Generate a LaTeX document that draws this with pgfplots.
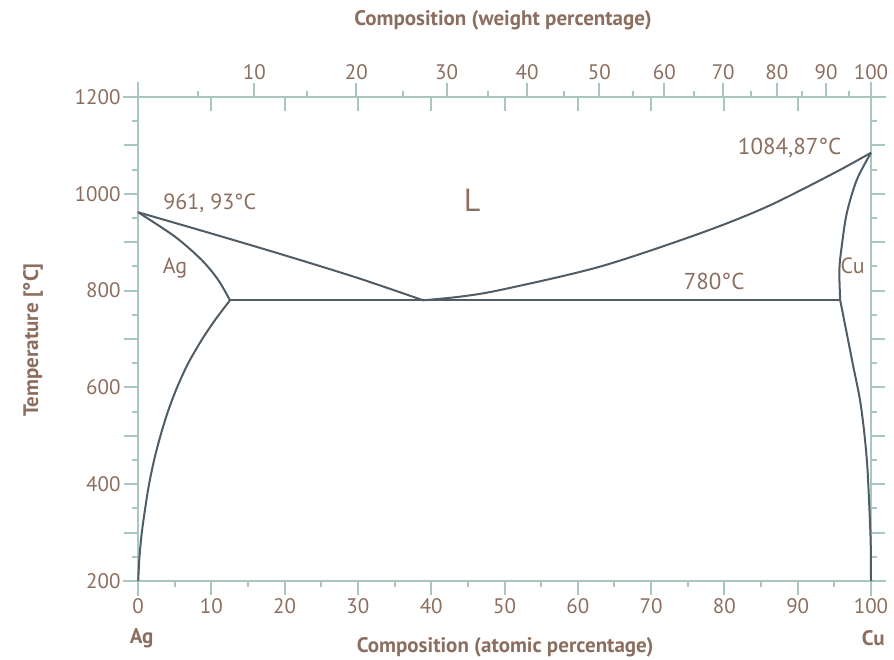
\documentclass[border=0pt]{standalone}
\usepackage{fontspec}
\setmainfont{PT Sans}
\usepackage{pgfplots}
\pgfplotsset{compat=1.18}
\definecolor{txt}{HTML}{8C6E5F}
\definecolor{axc}{HTML}{A8C8BE}
\definecolor{crv}{HTML}{505C66}
\pgfplotsset{
  base/.style={
    scale only axis, width=733pt, height=484pt,
    xmin=0,xmax=100,ymin=200,ymax=1200,
    at={(0,0)}, anchor=south west,
    axis line style={draw=axc, line width=2.2pt, -},
    x axis line style={shorten <=-15pt, shorten >=-15pt},
    y axis line style={shorten <=-15pt, shorten >=-15pt},
    every tick/.style={draw=axc, line width=2pt},
    tick label style={text=txt, font=\fontsize{21}{24}\selectfont},
    /pgf/number format/assume math mode=true,
    /pgf/number format/1000 sep={},
    major tick length=14pt, minor tick length=6pt,
    tick align=outside,
    clip=false,
  }
}
\begin{document}
\begin{tikzpicture}[x=1pt,y=1pt]
\path[use as bounding box] (-138,-78) rectangle (756,581);
% top / right axis
\begin{axis}[base,
  axis x line*=top, axis y line*=right,
  xtick={0,15.87,29.79,42.11,53.09,62.93,71.80,79.84,87.16,93.86,100},
  xticklabels={,10,20,30,40,50,60,70,80,90,100},
  minor xtick={8.20,23.05,36.14,47.75,58.14,67.48,75.92,83.59,90.58,96.99},
  extra x ticks={0,10,...,100}, extra x tick labels={},
  extra x tick style={tick align=inside, major tick length=14pt},
  ytick={200,300,...,1200}, yticklabels={}, minor y tick num=1,
]
\addplot[draw=none] coordinates {(0,200)};
\end{axis}
% bottom / left axis with curves
\begin{axis}[base,
  axis x line*=bottom, axis y line*=left,
  xtick={0,10,...,100}, minor x tick num=1,
  ytick={200,400,...,1200}, minor y tick num=3,
  extra y ticks={300,500,700,900,1100}, extra y tick labels={},
]
% Ag liquidus
\addplot[crv, line width=2pt, smooth] coordinates {
(0,961.93) (10,918) (20,873) (30,826) (38.9,780)};
% Cu liquidus
\addplot[crv, line width=2pt, smooth] coordinates {
(38.9,780) (43.9,787.4) (49.4,801.2) (63.0,849.4) (76.7,918.4) (85.8,973.3) (94.9,1042.4) (100,1084.87)};
% Ag solidus
\addplot[crv, line width=2pt, smooth] coordinates {
(0,961.93) (5.05,911.4) (8.69,863.2) (10.95,821.9) (12.55,780)};
% Ag solvus
\addplot[crv, line width=2pt, smooth] coordinates {
(12.55,780) (10.55,740) (8.77,700) (6.85,650) (5.33,600) (4.08,550) (3.06,500) (2.2,450) (1.51,400) (0.98,350) (0.52,300) (0.2,250) (0.03,200)};
% Cu solidus
\addplot[crv, line width=2pt, smooth] coordinates {
(100,1084.87) (98.05,1028.5) (96.69,959.7) (96.0,890.7) (95.68,842.6) (95.8,780)};
% Cu solvus
\addplot[crv, line width=2pt, smooth] coordinates {
(95.8,780) (96.69,711.8) (97.59,642.8) (98.5,574) (99.09,505.2) (99.5,436.2) (99.77,353.5) (99.96,277.9) (100,200)};
% eutectic line
\addplot[crv, line width=2pt] coordinates {(12.55,780) (95.8,780)};
% labels
\node[text=txt, font=\fontsize{22}{26}\selectfont] at (axis cs:9.8,981) {961, 93°C};
\node[text=txt, font=\fontsize{23}{27}\selectfont] at (axis cs:88.9,1094.6) {1084,87°C};
\node[text=txt, font=\fontsize{23}{27}\selectfont] at (axis cs:78.6,819.8) {780°C};
\node[text=txt, font=\fontsize{32}{36}\selectfont] at (axis cs:45.6,987) {L};
\node[text=txt, font=\fontsize{22}{26}\selectfont] at (axis cs:5.05,846.7) {Ag};
\node[text=txt, font=\fontsize{22}{26}\selectfont] at (axis cs:97.5,850.8) {Cu};
\node[text=txt, font=\bfseries\fontsize{21}{24}\selectfont] at ([yshift=-66pt]axis cs:50.1,200) {Composition (atomic percentage)};
\node[text=txt, font=\bfseries\fontsize{21}{24}\selectfont] at ([yshift=-57pt]axis cs:0.5,200) {Ag};
\node[text=txt, font=\bfseries\fontsize{21}{24}\selectfont] at ([yshift=-57pt]axis cs:100.3,200) {Cu};
\node[text=txt, font=\bfseries\fontsize{21}{24}\selectfont] at ([yshift=77pt]axis cs:49.8,1200) {Composition (weight percentage)};
\node[text=txt, font=\bfseries\fontsize{21}{24}\selectfont, rotate=90] at ([xshift=-105pt]axis cs:0,698) {Temperature [°C]};
\end{axis}
\end{tikzpicture}
\end{document}
